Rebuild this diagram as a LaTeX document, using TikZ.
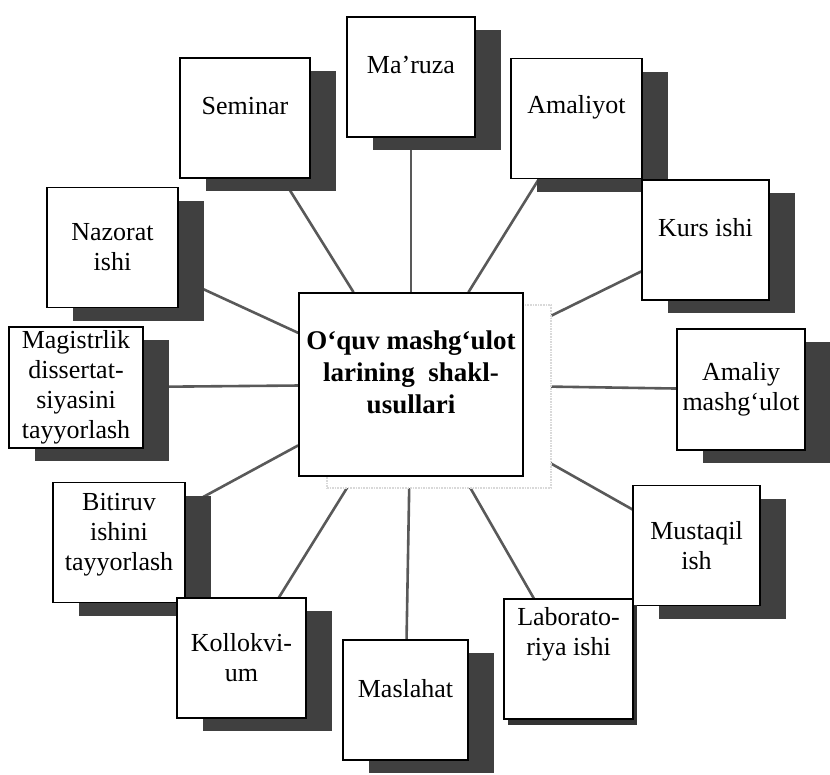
\documentclass[tikz,border=0pt]{standalone}
\usepackage{fontspec}
\setmainfont{Liberation Serif}
\usetikzlibrary{shadows,backgrounds}
\tikzset{
  plainbox/.style={draw, line width=1.2pt, fill=white, align=center, inner sep=2pt,
    minimum width=128pt, minimum height=120pt,
    font=\fontsize{26}{30}\selectfont},
  box/.style={plainbox,
    drop shadow={shadow xshift=26pt, shadow yshift=-13pt, fill=black!75, opacity=1}},
  thinbox/.style={plainbox,
    drop shadow={shadow xshift=4pt, shadow yshift=-6pt, fill=black!80, opacity=1}},
  hub/.style={draw, line width=1.6pt, fill=white, align=center, inner sep=2pt,
    minimum width=224pt, minimum height=183pt,
    font=\fontsize{27}{32}\selectfont\bfseries,
    drop shadow={shadow xshift=28pt, shadow yshift=-12pt, fill=white, draw=black!15,
      densely dotted, opacity=1}},
  link/.style={line width=2.6pt, draw=black!65},
}
\begin{document}
\begin{tikzpicture}[x=1pt, y=-1pt]
  \useasboundingbox (0,0) rectangle (830,774);
  \draw
    (411,384.5) node[hub, text depth=24pt] (hub) {O‘quv mashg‘ulot\\larining\ \ shakl-\\usullari}
    (411,77) node[box, text depth=24pt] (maruza) {Ma’ruza}
    (245,118) node[box, minimum width=130pt, text depth=24pt] (seminar) {Seminar}
    (576.5,118.5) node[box, minimum width=131pt, text depth=29pt] (amaliyot) {Amaliyot}
    (112.5,247.5) node[box, minimum width=131pt] (nazorat) {Nazorat\\ishi}
    (705.5,240) node[box, minimum width=127pt, text depth=26pt] (kurs) {Kurs ishi}
    (76,387.5) node[box, minimum width=134pt, minimum height=121pt] (magistr) {Magistrlik\\dissertat-\\siyasini\\tayyorlash}
    (741,389.5) node[box, minimum height=121pt] (amaliy) {Amaliy\\mashg‘ulot}
    (119,542.5) node[box, minimum width=132pt, text depth=21pt] (bitiruv) {Bitiruv\\ishini\\tayyorlash}
    (696.5,545.5) node[box, minimum width=127pt] (mustaqil) {Mustaqil\\ish}
    (241.5,658) node[box, minimum width=129pt] (kollok) {Kollokvi-\\um}
    (405.5,700) node[box, minimum width=125pt, text depth=24pt] (maslahat) {Maslahat}
    (568.5,659) node[thinbox, minimum width=129pt, text depth=55pt] (labor) {Laborato-\\riya ishi};
  \begin{scope}[on background layer]
    \draw[link] (hub) to (maruza);
    \draw[link] (hub) to (seminar);
    \draw[link] (hub) to (amaliyot);
    \draw[link] (hub) to (nazorat);
    \draw[link] (hub) to (kurs);
    \draw[link] (hub) to (magistr);
    \draw[link] (hub) to (amaliy);
    \draw[link] (hub) to (bitiruv);
    \draw[link] (hub) to (mustaqil);
    \draw[link] (hub) to (kollok);
    \draw[link] (hub) to (maslahat);
    \draw[link] (hub) to (labor);
  \end{scope}
\end{tikzpicture}
\end{document}
